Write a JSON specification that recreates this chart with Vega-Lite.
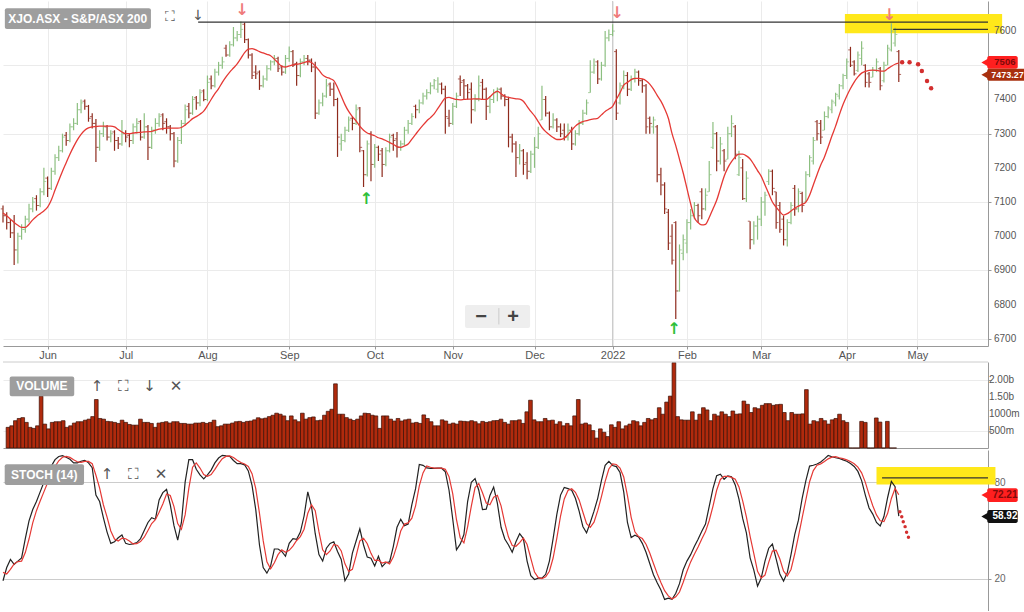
{
"$schema":"https://vega.github.io/schema/vega-lite/v6.json",
"padding":0,
"background":"#ffffff",
"spacing":1,
"config":{"view":{"stroke":null},"font":"Liberation Sans","text":{"font":"Liberation Sans"}},
"datasets":{
"ohlc":[
{"i":0,"o":7080,"h":7090,"l":7040,"c":7060,"v":605,"m":7068,"k":18.8,"d":24},
{"i":1,"o":7060,"h":7070,"l":7020,"c":7040,"v":650,"m":7060,"k":27,"d":23},
{"i":2,"o":7040,"h":7050,"l":6995,"c":7010,"v":800,"m":7050,"k":32,"d":25.9},
{"i":3,"o":7010,"h":7062,"l":6916,"c":6960,"v":865,"m":7040,"k":29,"d":29.3},
{"i":4,"o":6960,"h":7010,"l":6920,"c":7000,"v":890,"m":7032,"k":31,"d":30.7},
{"i":5,"o":7000,"h":7035,"l":6990,"c":7020,"v":750,"m":7026,"k":33,"d":31},
{"i":6,"o":7020,"h":7060,"l":7010,"c":7050,"v":605,"m":7026,"k":45,"d":36.3},
{"i":7,"o":7050,"h":7095,"l":7040,"c":7080,"v":575,"m":7035,"k":56,"d":44.7},
{"i":8,"o":7080,"h":7115,"l":7070,"c":7100,"v":650,"m":7048,"k":63,"d":54.7},
{"i":9,"o":7110,"h":7120,"l":7075,"c":7090,"v":1520,"m":7058,"k":68,"d":62.3},
{"i":10,"o":7090,"h":7140,"l":7085,"c":7130,"v":700,"m":7066,"k":74,"d":68.3},
{"i":11,"o":7130,"h":7200,"l":7120,"c":7160,"v":560,"m":7074,"k":80,"d":74},
{"i":12,"o":7170,"h":7175,"l":7115,"c":7140,"v":750,"m":7085,"k":85,"d":79.7},
{"i":13,"o":7140,"h":7200,"l":7135,"c":7190,"v":770,"m":7106,"k":90,"d":85},
{"i":14,"o":7190,"h":7240,"l":7180,"c":7230,"v":770,"m":7135,"k":94,"d":89.7},
{"i":15,"o":7230,"h":7265,"l":7220,"c":7250,"v":800,"m":7163,"k":96,"d":93.3},
{"i":16,"o":7250,"h":7300,"l":7245,"c":7290,"v":605,"m":7190,"k":96.5,"d":95.5},
{"i":17,"o":7295,"h":7305,"l":7265,"c":7280,"v":650,"m":7215,"k":95.5,"d":96},
{"i":18,"o":7280,"h":7330,"l":7275,"c":7320,"v":730,"m":7240,"k":94.2,"d":95.4},
{"i":19,"o":7320,"h":7345,"l":7310,"c":7330,"v":770,"m":7262,"k":92,"d":93.9},
{"i":20,"o":7330,"h":7390,"l":7325,"c":7370,"v":770,"m":7282,"k":92,"d":92.7},
{"i":21,"o":7370,"h":7400,"l":7360,"c":7390,"v":815,"m":7298,"k":93,"d":92.3},
{"i":22,"o":7395,"h":7400,"l":7370,"c":7380,"v":845,"m":7310,"k":93.6,"d":92.9},
{"i":23,"o":7380,"h":7384,"l":7335,"c":7345,"v":920,"m":7317,"k":92,"d":92.9},
{"i":24,"o":7350,"h":7360,"l":7315,"c":7330,"v":1420,"m":7320,"k":89,"d":91.5},
{"i":25,"o":7330,"h":7343,"l":7217,"c":7260,"v":865,"m":7321,"k":72,"d":84.3},
{"i":26,"o":7260,"h":7310,"l":7250,"c":7300,"v":845,"m":7322,"k":68,"d":76.3},
{"i":27,"o":7300,"h":7335,"l":7290,"c":7320,"v":780,"m":7322,"k":58,"d":66},
{"i":28,"o":7320,"h":7325,"l":7280,"c":7290,"v":770,"m":7322,"k":49,"d":58.3},
{"i":29,"o":7290,"h":7310,"l":7275,"c":7300,"v":750,"m":7322,"k":42,"d":49.7},
{"i":30,"o":7305,"h":7310,"l":7250,"c":7280,"v":720,"m":7320,"k":43,"d":44.7},
{"i":31,"o":7280,"h":7290,"l":7255,"c":7270,"v":815,"m":7312,"k":45.5,"d":43.5},
{"i":32,"o":7270,"h":7340,"l":7265,"c":7300,"v":750,"m":7305,"k":47.2,"d":45.2},
{"i":33,"o":7300,"h":7310,"l":7275,"c":7290,"v":690,"m":7300,"k":42,"d":44.9},
{"i":34,"o":7295,"h":7300,"l":7260,"c":7280,"v":670,"m":7300,"k":41.3,"d":43.5},
{"i":35,"o":7280,"h":7330,"l":7270,"c":7320,"v":670,"m":7302,"k":41.7,"d":41.7},
{"i":36,"o":7320,"h":7345,"l":7300,"c":7330,"v":845,"m":7303,"k":42.5,"d":41.8},
{"i":37,"o":7335,"h":7340,"l":7280,"c":7290,"v":750,"m":7304,"k":45,"d":43.1},
{"i":38,"o":7290,"h":7360,"l":7285,"c":7320,"v":750,"m":7305,"k":50,"d":45.8},
{"i":39,"o":7320,"h":7325,"l":7223,"c":7260,"v":720,"m":7306,"k":55,"d":50},
{"i":40,"o":7260,"h":7320,"l":7255,"c":7310,"v":605,"m":7307,"k":58,"d":54.3},
{"i":41,"o":7310,"h":7345,"l":7300,"c":7330,"v":730,"m":7310,"k":57,"d":56.7},
{"i":42,"o":7330,"h":7360,"l":7320,"c":7350,"v":750,"m":7313,"k":69,"d":61.3},
{"i":43,"o":7355,"h":7360,"l":7310,"c":7330,"v":770,"m":7315,"k":73.5,"d":66.5},
{"i":44,"o":7335,"h":7345,"l":7300,"c":7320,"v":730,"m":7316,"k":75.5,"d":72.7},
{"i":45,"o":7320,"h":7325,"l":7280,"c":7300,"v":770,"m":7316,"k":66,"d":71.7},
{"i":46,"o":7300,"h":7305,"l":7202,"c":7220,"v":770,"m":7316,"k":53,"d":64.8},
{"i":47,"o":7220,"h":7290,"l":7215,"c":7280,"v":720,"m":7316,"k":44,"d":54.3},
{"i":48,"o":7280,"h":7340,"l":7270,"c":7330,"v":720,"m":7318,"k":55,"d":50.7},
{"i":49,"o":7330,"h":7385,"l":7325,"c":7370,"v":700,"m":7325,"k":80,"d":59.7},
{"i":50,"o":7380,"h":7390,"l":7345,"c":7360,"v":700,"m":7334,"k":94,"d":76.3},
{"i":51,"o":7360,"h":7410,"l":7355,"c":7400,"v":730,"m":7344,"k":94,"d":89.3},
{"i":52,"o":7405,"h":7410,"l":7370,"c":7390,"v":730,"m":7350,"k":88,"d":92},
{"i":53,"o":7390,"h":7430,"l":7380,"c":7420,"v":750,"m":7357,"k":84.5,"d":88.8},
{"i":54,"o":7425,"h":7430,"l":7395,"c":7400,"v":720,"m":7366,"k":82,"d":84.8},
{"i":55,"o":7400,"h":7470,"l":7395,"c":7450,"v":750,"m":7382,"k":84.5,"d":83.7},
{"i":56,"o":7460,"h":7470,"l":7430,"c":7440,"v":815,"m":7400,"k":87.5,"d":84.7},
{"i":57,"o":7440,"h":7490,"l":7435,"c":7480,"v":625,"m":7417,"k":92,"d":88},
{"i":58,"o":7480,"h":7510,"l":7470,"c":7500,"v":650,"m":7432,"k":95,"d":91.5},
{"i":59,"o":7500,"h":7525,"l":7490,"c":7510,"v":700,"m":7450,"k":96.7,"d":94.6},
{"i":60,"o":7550,"h":7560,"l":7525,"c":7530,"v":700,"m":7466,"k":96.3,"d":96},
{"i":61,"o":7530,"h":7570,"l":7525,"c":7560,"v":730,"m":7480,"k":96,"d":96.3},
{"i":62,"o":7560,"h":7612,"l":7555,"c":7580,"v":770,"m":7492,"k":93.5,"d":95.3},
{"i":63,"o":7580,"h":7600,"l":7570,"c":7590,"v":780,"m":7504,"k":91.5,"d":93.7},
{"i":64,"o":7590,"h":7628,"l":7580,"c":7605,"v":750,"m":7520,"k":91.5,"d":92.2},
{"i":65,"o":7620,"h":7625,"l":7565,"c":7575,"v":780,"m":7537,"k":90.8,"d":91.3},
{"i":66,"o":7575,"h":7578,"l":7520,"c":7530,"v":790,"m":7547,"k":87,"d":89.8},
{"i":67,"o":7530,"h":7535,"l":7460,"c":7470,"v":825,"m":7549,"k":78,"d":85.3},
{"i":68,"o":7480,"h":7500,"l":7460,"c":7475,"v":885,"m":7545,"k":63,"d":76},
{"i":69,"o":7480,"h":7485,"l":7428,"c":7440,"v":855,"m":7540,"k":41,"d":60.7},
{"i":70,"o":7440,"h":7470,"l":7435,"c":7460,"v":875,"m":7536,"k":27,"d":43.7},
{"i":71,"o":7460,"h":7500,"l":7455,"c":7490,"v":920,"m":7532,"k":23.5,"d":30.5},
{"i":72,"o":7490,"h":7515,"l":7485,"c":7510,"v":960,"m":7528,"k":28,"d":26.2},
{"i":73,"o":7510,"h":7530,"l":7500,"c":7520,"v":1020,"m":7518,"k":38.5,"d":30},
{"i":74,"o":7520,"h":7525,"l":7480,"c":7490,"v":990,"m":7507,"k":38.5,"d":35},
{"i":75,"o":7495,"h":7500,"l":7470,"c":7480,"v":940,"m":7497,"k":37,"d":38},
{"i":76,"o":7480,"h":7530,"l":7475,"c":7520,"v":800,"m":7495,"k":34,"d":36.5},
{"i":77,"o":7520,"h":7555,"l":7510,"c":7540,"v":940,"m":7498,"k":42,"d":37.7},
{"i":78,"o":7540,"h":7545,"l":7495,"c":7500,"v":825,"m":7501,"k":45,"d":40.3},
{"i":79,"o":7505,"h":7510,"l":7440,"c":7470,"v":770,"m":7503,"k":44.5,"d":43.8},
{"i":80,"o":7470,"h":7520,"l":7465,"c":7510,"v":1020,"m":7505,"k":49,"d":46.2},
{"i":81,"o":7510,"h":7530,"l":7500,"c":7520,"v":845,"m":7508,"k":59,"d":50.8},
{"i":82,"o":7520,"h":7530,"l":7500,"c":7515,"v":890,"m":7511,"k":74,"d":60.7},
{"i":83,"o":7515,"h":7520,"l":7480,"c":7495,"v":910,"m":7508,"k":65,"d":66},
{"i":84,"o":7495,"h":7510,"l":7343,"c":7360,"v":800,"m":7498,"k":48,"d":62.3},
{"i":85,"o":7360,"h":7400,"l":7355,"c":7390,"v":815,"m":7486,"k":35,"d":49.3},
{"i":86,"o":7390,"h":7420,"l":7380,"c":7410,"v":960,"m":7472,"k":31,"d":38},
{"i":87,"o":7410,"h":7460,"l":7405,"c":7440,"v":1075,"m":7465,"k":39,"d":35},
{"i":88,"o":7445,"h":7450,"l":7410,"c":7430,"v":1135,"m":7461,"k":42,"d":37.3},
{"i":89,"o":7430,"h":7450,"l":7380,"c":7400,"v":1880,"m":7455,"k":43,"d":41.3},
{"i":90,"o":7400,"h":7405,"l":7232,"c":7290,"v":990,"m":7435,"k":37,"d":40.7},
{"i":91,"o":7270,"h":7300,"l":7250,"c":7280,"v":990,"m":7410,"k":32,"d":37.3},
{"i":92,"o":7280,"h":7320,"l":7275,"c":7310,"v":890,"m":7385,"k":18.8,"d":29.3},
{"i":93,"o":7310,"h":7350,"l":7305,"c":7340,"v":845,"m":7365,"k":23,"d":24.6},
{"i":94,"o":7345,"h":7350,"l":7310,"c":7330,"v":805,"m":7350,"k":36,"d":25.9},
{"i":95,"o":7330,"h":7385,"l":7325,"c":7370,"v":845,"m":7337,"k":43.5,"d":34.2},
{"i":96,"o":7375,"h":7378,"l":7246,"c":7260,"v":940,"m":7322,"k":51,"d":43.5},
{"i":97,"o":7250,"h":7252,"l":7144,"c":7180,"v":1020,"m":7310,"k":41,"d":45.2},
{"i":98,"o":7180,"h":7280,"l":7175,"c":7270,"v":1010,"m":7302,"k":33.5,"d":41.8},
{"i":99,"o":7300,"h":7307,"l":7161,"c":7210,"v":960,"m":7298,"k":32.8,"d":35.8},
{"i":100,"o":7210,"h":7270,"l":7200,"c":7260,"v":940,"m":7294,"k":28,"d":31.4},
{"i":101,"o":7260,"h":7265,"l":7220,"c":7240,"v":575,"m":7288,"k":34,"d":31.6},
{"i":102,"o":7250,"h":7258,"l":7173,"c":7210,"v":940,"m":7285,"k":27.5,"d":29.8},
{"i":103,"o":7210,"h":7260,"l":7205,"c":7250,"v":940,"m":7280,"k":30,"d":30.5},
{"i":104,"o":7250,"h":7300,"l":7245,"c":7290,"v":845,"m":7274,"k":30.5,"d":29.3},
{"i":105,"o":7295,"h":7300,"l":7250,"c":7280,"v":790,"m":7269,"k":40,"d":33.5},
{"i":106,"o":7285,"h":7305,"l":7230,"c":7260,"v":865,"m":7262,"k":52,"d":40.8},
{"i":107,"o":7260,"h":7280,"l":7250,"c":7270,"v":790,"m":7260,"k":57,"d":49.7},
{"i":108,"o":7270,"h":7320,"l":7265,"c":7310,"v":825,"m":7264,"k":53,"d":54},
{"i":109,"o":7310,"h":7340,"l":7300,"c":7330,"v":845,"m":7270,"k":54,"d":54.7},
{"i":110,"o":7330,"h":7360,"l":7325,"c":7350,"v":730,"m":7284,"k":66,"d":57.7},
{"i":111,"o":7380,"h":7385,"l":7345,"c":7370,"v":750,"m":7298,"k":76,"d":65.3},
{"i":112,"o":7370,"h":7400,"l":7360,"c":7390,"v":720,"m":7312,"k":91,"d":77.7},
{"i":113,"o":7390,"h":7420,"l":7385,"c":7410,"v":970,"m":7325,"k":90.5,"d":85.8},
{"i":114,"o":7410,"h":7430,"l":7400,"c":7420,"v":865,"m":7337,"k":88.9,"d":90.1},
{"i":115,"o":7420,"h":7450,"l":7415,"c":7440,"v":770,"m":7347,"k":88.6,"d":89.3},
{"i":116,"o":7440,"h":7460,"l":7430,"c":7455,"v":650,"m":7358,"k":88.6,"d":88.7},
{"i":117,"o":7430,"h":7465,"l":7420,"c":7445,"v":650,"m":7374,"k":88.8,"d":88.7},
{"i":118,"o":7445,"h":7450,"l":7415,"c":7430,"v":825,"m":7390,"k":88.7,"d":88.7},
{"i":119,"o":7430,"h":7440,"l":7300,"c":7350,"v":790,"m":7404,"k":86.5,"d":88},
{"i":120,"o":7345,"h":7370,"l":7320,"c":7330,"v":700,"m":7406,"k":75,"d":83.4},
{"i":121,"o":7330,"h":7390,"l":7325,"c":7380,"v":730,"m":7403,"k":57,"d":72.8},
{"i":122,"o":7380,"h":7420,"l":7375,"c":7410,"v":700,"m":7400,"k":38,"d":56.7},
{"i":123,"o":7460,"h":7470,"l":7410,"c":7450,"v":790,"m":7399,"k":41.5,"d":45.5},
{"i":124,"o":7455,"h":7460,"l":7400,"c":7440,"v":780,"m":7400,"k":47.5,"d":42.3},
{"i":125,"o":7440,"h":7445,"l":7400,"c":7420,"v":770,"m":7401,"k":68,"d":52.3},
{"i":126,"o":7430,"h":7450,"l":7330,"c":7370,"v":800,"m":7401,"k":80,"d":65.2},
{"i":127,"o":7370,"h":7415,"l":7365,"c":7400,"v":770,"m":7402,"k":82.2,"d":76.7},
{"i":128,"o":7400,"h":7470,"l":7395,"c":7440,"v":710,"m":7402,"k":75,"d":79.1},
{"i":129,"o":7450,"h":7460,"l":7400,"c":7430,"v":780,"m":7400,"k":63,"d":73.4},
{"i":130,"o":7430,"h":7435,"l":7340,"c":7380,"v":750,"m":7400,"k":63.3,"d":67.1},
{"i":131,"o":7380,"h":7410,"l":7360,"c":7400,"v":770,"m":7408,"k":71.8,"d":66},
{"i":132,"o":7400,"h":7430,"l":7390,"c":7420,"v":800,"m":7418,"k":77,"d":70.7},
{"i":133,"o":7420,"h":7435,"l":7395,"c":7430,"v":805,"m":7424,"k":67,"d":71.9},
{"i":134,"o":7430,"h":7435,"l":7400,"c":7410,"v":845,"m":7417,"k":52,"d":65.3},
{"i":135,"o":7410,"h":7415,"l":7380,"c":7400,"v":750,"m":7409,"k":44.7,"d":54.6},
{"i":136,"o":7400,"h":7408,"l":7260,"c":7290,"v":700,"m":7406,"k":41,"d":45.9},
{"i":137,"o":7290,"h":7300,"l":7245,"c":7270,"v":800,"m":7404,"k":36.5,"d":40.7},
{"i":138,"o":7270,"h":7278,"l":7173,"c":7230,"v":800,"m":7402,"k":43,"d":40.2},
{"i":139,"o":7230,"h":7270,"l":7210,"c":7250,"v":825,"m":7401,"k":48,"d":42.5},
{"i":140,"o":7250,"h":7255,"l":7180,"c":7210,"v":720,"m":7395,"k":45,"d":45.3},
{"i":141,"o":7215,"h":7246,"l":7167,"c":7190,"v":1060,"m":7380,"k":31,"d":41.3},
{"i":142,"o":7190,"h":7250,"l":7185,"c":7240,"v":1400,"m":7365,"k":22,"d":32.7},
{"i":143,"o":7240,"h":7290,"l":7200,"c":7260,"v":825,"m":7352,"k":19.6,"d":24.2},
{"i":144,"o":7260,"h":7320,"l":7255,"c":7300,"v":770,"m":7335,"k":20.4,"d":20.7},
{"i":145,"o":7340,"h":7440,"l":7340,"c":7400,"v":770,"m":7318,"k":20.4,"d":20.1},
{"i":146,"o":7400,"h":7410,"l":7350,"c":7360,"v":865,"m":7306,"k":22.8,"d":21.2},
{"i":147,"o":7360,"h":7365,"l":7310,"c":7320,"v":800,"m":7297,"k":31,"d":24.7},
{"i":148,"o":7320,"h":7360,"l":7315,"c":7340,"v":815,"m":7289,"k":45,"d":32.9},
{"i":149,"o":7340,"h":7345,"l":7305,"c":7320,"v":700,"m":7283,"k":60,"d":45.3},
{"i":150,"o":7320,"h":7330,"l":7290,"c":7300,"v":770,"m":7283,"k":72,"d":59},
{"i":151,"o":7310,"h":7330,"l":7280,"c":7290,"v":650,"m":7287,"k":76.7,"d":69.6},
{"i":152,"o":7290,"h":7330,"l":7280,"c":7310,"v":720,"m":7297,"k":76,"d":74.9},
{"i":153,"o":7310,"h":7320,"l":7252,"c":7270,"v":650,"m":7310,"k":75,"d":75.9},
{"i":154,"o":7270,"h":7310,"l":7265,"c":7300,"v":940,"m":7322,"k":70,"d":73.7},
{"i":155,"o":7300,"h":7340,"l":7295,"c":7330,"v":1420,"m":7330,"k":62,"d":69},
{"i":156,"o":7330,"h":7370,"l":7325,"c":7360,"v":700,"m":7335,"k":52.5,"d":61.5},
{"i":157,"o":7360,"h":7400,"l":7355,"c":7390,"v":730,"m":7338,"k":48.5,"d":54.3},
{"i":158,"o":7420,"h":7515,"l":7420,"c":7480,"v":680,"m":7341,"k":55,"d":52},
{"i":159,"o":7480,"h":7520,"l":7475,"c":7500,"v":510,"m":7343,"k":62,"d":55.2},
{"i":160,"o":7510,"h":7515,"l":7445,"c":7460,"v":290,"m":7345,"k":70,"d":62.3},
{"i":161,"o":7460,"h":7510,"l":7455,"c":7500,"v":560,"m":7355,"k":81,"d":71},
{"i":162,"o":7500,"h":7600,"l":7496,"c":7580,"v":460,"m":7365,"k":90.5,"d":80.5},
{"i":163,"o":7580,"h":7605,"l":7570,"c":7590,"v":335,"m":7372,"k":93,"d":88.2},
{"i":164,"o":7590,"h":7620,"l":7585,"c":7600,"v":680,"m":7380,"k":90.4,"d":91.3},
{"i":165,"o":7540,"h":7547,"l":7340,"c":7360,"v":605,"m":7400,"k":89.7,"d":91},
{"i":166,"o":7390,"h":7450,"l":7385,"c":7440,"v":770,"m":7420,"k":86,"d":88.7},
{"i":167,"o":7440,"h":7485,"l":7430,"c":7470,"v":560,"m":7442,"k":74,"d":83.2},
{"i":168,"o":7470,"h":7480,"l":7410,"c":7430,"v":650,"m":7450,"k":55,"d":71.7},
{"i":169,"o":7430,"h":7470,"l":7425,"c":7460,"v":700,"m":7458,"k":45.6,"d":58.2},
{"i":170,"o":7460,"h":7490,"l":7450,"c":7480,"v":800,"m":7462,"k":47.1,"d":49.2},
{"i":171,"o":7480,"h":7485,"l":7440,"c":7455,"v":770,"m":7462,"k":46,"d":46.2},
{"i":172,"o":7455,"h":7460,"l":7420,"c":7440,"v":650,"m":7460,"k":42,"d":45},
{"i":173,"o":7440,"h":7445,"l":7300,"c":7320,"v":750,"m":7455,"k":36.5,"d":41.5},
{"i":174,"o":7345,"h":7350,"l":7300,"c":7330,"v":865,"m":7445,"k":29.5,"d":36},
{"i":175,"o":7320,"h":7350,"l":7300,"c":7340,"v":825,"m":7430,"k":22.5,"d":29.5},
{"i":176,"o":7320,"h":7325,"l":7158,"c":7180,"v":865,"m":7412,"k":17.5,"d":23.2},
{"i":177,"o":7180,"h":7200,"l":7120,"c":7150,"v":1180,"m":7395,"k":13,"d":17.7},
{"i":178,"o":7150,"h":7158,"l":7065,"c":7080,"v":990,"m":7373,"k":7.2,"d":12.6},
{"i":179,"o":7070,"h":7080,"l":6960,"c":6980,"v":1345,"m":7345,"k":8,"d":9.4},
{"i":180,"o":7000,"h":7035,"l":6917,"c":6930,"v":1520,"m":7300,"k":7.3,"d":7.5},
{"i":181,"o":7040,"h":7044,"l":6758,"c":6840,"v":2500,"m":7265,"k":11,"d":8.8},
{"i":182,"o":6840,"h":6976,"l":6838,"c":6960,"v":920,"m":7225,"k":17,"d":11.8},
{"i":183,"o":6950,"h":7005,"l":6930,"c":6990,"v":825,"m":7185,"k":25.6,"d":17.9},
{"i":184,"o":6980,"h":7050,"l":6950,"c":7040,"v":815,"m":7140,"k":31,"d":24.5},
{"i":185,"o":7040,"h":7080,"l":7020,"c":7060,"v":815,"m":7095,"k":35,"d":30.5},
{"i":186,"o":7060,"h":7100,"l":7050,"c":7090,"v":1060,"m":7055,"k":40,"d":35.3},
{"i":187,"o":7090,"h":7095,"l":7040,"c":7060,"v":815,"m":7040,"k":44.5,"d":39.8},
{"i":188,"o":7130,"h":7140,"l":7050,"c":7080,"v":990,"m":7033,"k":49.5,"d":44.7},
{"i":189,"o":7080,"h":7140,"l":7075,"c":7120,"v":1180,"m":7035,"k":54,"d":49.3},
{"i":190,"o":7130,"h":7220,"l":7130,"c":7180,"v":1115,"m":7055,"k":65,"d":56.2},
{"i":191,"o":7260,"h":7334,"l":7255,"c":7300,"v":800,"m":7080,"k":76,"d":65},
{"i":192,"o":7300,"h":7305,"l":7190,"c":7220,"v":990,"m":7105,"k":84,"d":75},
{"i":193,"o":7220,"h":7290,"l":7210,"c":7270,"v":940,"m":7140,"k":85,"d":81.7},
{"i":194,"o":7250,"h":7255,"l":7190,"c":7220,"v":1060,"m":7175,"k":81.8,"d":83.6},
{"i":195,"o":7225,"h":7320,"l":7225,"c":7300,"v":990,"m":7200,"k":83.9,"d":83.6},
{"i":196,"o":7300,"h":7354,"l":7290,"c":7330,"v":920,"m":7218,"k":83.4,"d":83},
{"i":197,"o":7320,"h":7325,"l":7225,"c":7240,"v":1085,"m":7232,"k":78.3,"d":81.9},
{"i":198,"o":7180,"h":7250,"l":7176,"c":7230,"v":990,"m":7240,"k":69.5,"d":77.1},
{"i":199,"o":7200,"h":7226,"l":7106,"c":7110,"v":1000,"m":7240,"k":57.5,"d":68.4},
{"i":200,"o":7110,"h":7190,"l":7100,"c":7170,"v":1375,"m":7235,"k":48.5,"d":58.5},
{"i":201,"o":7044,"h":7044,"l":6962,"c":6990,"v":1280,"m":7226,"k":33,"d":46.3},
{"i":202,"o":6990,"h":7044,"l":6976,"c":7030,"v":1040,"m":7210,"k":25.4,"d":35.6},
{"i":203,"o":7030,"h":7060,"l":6990,"c":7050,"v":1180,"m":7192,"k":15.5,"d":24.6},
{"i":204,"o":7050,"h":7115,"l":7030,"c":7100,"v":1150,"m":7175,"k":20.5,"d":20.5},
{"i":205,"o":7100,"h":7130,"l":7060,"c":7120,"v":1250,"m":7150,"k":31,"d":22.3},
{"i":206,"o":7160,"h":7196,"l":7150,"c":7190,"v":1300,"m":7125,"k":39,"d":30.2},
{"i":207,"o":7190,"h":7195,"l":7120,"c":7140,"v":1300,"m":7100,"k":41.6,"d":37.2},
{"i":208,"o":7130,"h":7130,"l":7022,"c":7040,"v":1250,"m":7085,"k":32.4,"d":37.7},
{"i":209,"o":7090,"h":7100,"l":7010,"c":7020,"v":1270,"m":7072,"k":23,"d":32.3},
{"i":210,"o":7050,"h":7060,"l":6973,"c":6990,"v":1280,"m":7062,"k":18.6,"d":24.7},
{"i":211,"o":6990,"h":7050,"l":6970,"c":7040,"v":1040,"m":7066,"k":23.8,"d":21.8},
{"i":212,"o":7040,"h":7100,"l":7035,"c":7090,"v":800,"m":7074,"k":35,"d":25.8},
{"i":213,"o":7140,"h":7150,"l":7060,"c":7080,"v":1040,"m":7082,"k":47.4,"d":35.4},
{"i":214,"o":7080,"h":7140,"l":7070,"c":7130,"v":990,"m":7088,"k":56.4,"d":46.3},
{"i":215,"o":7125,"h":7130,"l":7070,"c":7090,"v":990,"m":7093,"k":70,"d":57.9},
{"i":216,"o":7100,"h":7190,"l":7100,"c":7180,"v":1000,"m":7100,"k":81,"d":69.1},
{"i":217,"o":7180,"h":7237,"l":7173,"c":7230,"v":1710,"m":7120,"k":90,"d":80.3},
{"i":218,"o":7220,"h":7290,"l":7210,"c":7280,"v":700,"m":7150,"k":90.5,"d":87.2},
{"i":219,"o":7335,"h":7340,"l":7280,"c":7300,"v":800,"m":7180,"k":91.3,"d":90.6},
{"i":220,"o":7330,"h":7340,"l":7270,"c":7290,"v":770,"m":7208,"k":92.5,"d":91.4},
{"i":221,"o":7310,"h":7365,"l":7310,"c":7350,"v":865,"m":7232,"k":94.5,"d":92.8},
{"i":222,"o":7350,"h":7380,"l":7345,"c":7375,"v":800,"m":7262,"k":96.6,"d":94.5},
{"i":223,"o":7370,"h":7400,"l":7360,"c":7395,"v":700,"m":7293,"k":95.8,"d":95.6},
{"i":224,"o":7390,"h":7420,"l":7380,"c":7415,"v":825,"m":7322,"k":95.2,"d":95.9},
{"i":225,"o":7410,"h":7445,"l":7400,"c":7440,"v":865,"m":7355,"k":94.7,"d":95.2},
{"i":226,"o":7440,"h":7475,"l":7430,"c":7470,"v":990,"m":7385,"k":93.9,"d":94.6},
{"i":227,"o":7470,"h":7520,"l":7460,"c":7510,"v":800,"m":7410,"k":93,"d":93.9},
{"i":228,"o":7545,"h":7554,"l":7495,"c":7500,"v":750,"m":7432,"k":91.6,"d":92.8},
{"i":229,"o":7510,"h":7515,"l":7470,"c":7475,"v":0,"m":7451,"k":89.8,"d":91.5},
{"i":230,"o":7485,"h":7540,"l":7480,"c":7530,"v":0,"m":7466,"k":86.7,"d":89.4},
{"i":231,"o":7520,"h":7570,"l":7500,"c":7550,"v":0,"m":7477,"k":81,"d":85.8},
{"i":232,"o":7500,"h":7503,"l":7436,"c":7450,"v":780,"m":7482,"k":72,"d":79.9},
{"i":233,"o":7475,"h":7480,"l":7435,"c":7450,"v":750,"m":7485,"k":64,"d":72.3},
{"i":234,"o":7465,"h":7495,"l":7465,"c":7485,"v":0,"m":7486,"k":60.2,"d":65.4},
{"i":235,"o":7485,"h":7520,"l":7480,"c":7510,"v":0,"m":7485,"k":55,"d":59.7},
{"i":236,"o":7490,"h":7495,"l":7427,"c":7440,"v":880,"m":7483,"k":52.8,"d":56},
{"i":237,"o":7455,"h":7510,"l":7450,"c":7500,"v":760,"m":7483,"k":58.7,"d":55.5},
{"i":238,"o":7500,"h":7560,"l":7500,"c":7550,"v":0,"m":7490,"k":70.5,"d":60.7},
{"i":239,"o":7545,"h":7623,"l":7540,"c":7600,"v":780,"m":7497,"k":80.5,"d":69.9},
{"i":240,"o":7565,"h":7610,"l":7555,"c":7590,"v":0,"m":7503,"k":77.2,"d":76.1},
{"i":241,"o":7540,"h":7545,"l":7451,"c":7473.27,"v":0,"m":7506,"k":58.92,"d":72.21}
],
"pticks":[{"p":6700},{"p":6800},{"p":6900},{"p":7000},{"p":7100},{"p":7200},{"p":7300},{"p":7400},{"p":7500},{"p":7600}],
"vticks":[{"v":500,"t":"500m"},{"v":1000,"t":"1000m"},{"v":1500,"t":"1.50b"},{"v":2000,"t":"2.00b"}],
"highs":[{"i":64.3,"p":7662},{"i":165.2,"p":7653},{"i":238.4,"p":7648}],
"lows":[{"i":97.7,"p":7110},{"i":180.5,"p":6730}],
"proj":[{"i":241.9,"p":7509},{"i":243.9,"p":7509},{"i":246.2,"p":7503},{"i":247.2,"p":7483},{"i":248.6,"p":7454},{"i":249.7,"p":7433}],
"sproj":[{"i":241.3,"k":61.7},{"i":241.8,"k":58.6},{"i":242.2,"k":55.5},{"i":242.7,"k":52.4},{"i":243.1,"k":48.9},{"i":243.6,"k":45.8}]
},
"vconcat":[
{
"width":985,"height":345,
"layer":[
{"data":{"values":[{}]},"mark":{"type":"rect","fill":"#ffe81a"},
 "encoding":{
  "x":{"datum":226.5,"type":"quantitative","scale":{"domain":[0,265],"nice":false,"zero":false},
       "axis":{"title":null,"values":[12,33,55,77,100,121,143,164,184,204,227,246],"labelExpr":"['Jun','Jul','Aug','Sep','Oct','Nov','Dec','2022','Feb','Mar','Apr','May'][indexof([12,33,55,77,100,121,143,164,184,204,227,246], datum.value)]","grid":true,"gridColor":"#ebebeb","tickSize":3,"tickColor":"#999","domainColor":"#999","labelColor":"#555","labelFontSize":11,"labelPadding":0,"labelFlush":false,"labelOverlap":false}},
  "x2":{"datum":268.8},
  "y":{"datum":7650,"type":"quantitative","scale":{"domain":[6679,7688],"nice":false,"zero":false},
       "axis":{"title":null,"orient":"right","values":[6700,6800,6900,7000,7100,7200,7300,7400,7500,7600],"labels":false,"grid":true,"gridColor":"#ebebeb","tickSize":3,"tickColor":"#999","domainColor":"#999"}},
  "y2":{"datum":7594}}},
{"data":{"values":[{}]},"mark":{"type":"rule","color":"#c8c8c8"},"encoding":{"x":{"datum":164,"type":"quantitative"}}},
{"data":{"name":"ohlc"},"mark":{"type":"rule","strokeWidth":1.2},
 "encoding":{"x":{"field":"i","type":"quantitative"},"y":{"field":"l","type":"quantitative"},"y2":{"field":"h"},
  "color":{"condition":{"test":"datum.c >= datum.o","value":"#8cbf80"},"value":"#8e2a1c"}}},
{"data":{"name":"ohlc"},"mark":{"type":"tick","orient":"horizontal","size":2,"thickness":1,"xOffset":-1.3},
 "encoding":{"x":{"field":"i","type":"quantitative"},"y":{"field":"o","type":"quantitative"},
  "color":{"condition":{"test":"datum.c >= datum.o","value":"#8cbf80"},"value":"#8e2a1c"}}},
{"data":{"name":"ohlc"},"mark":{"type":"tick","orient":"horizontal","size":2,"thickness":1,"xOffset":1.3},
 "encoding":{"x":{"field":"i","type":"quantitative"},"y":{"field":"c","type":"quantitative"},
  "color":{"condition":{"test":"datum.c >= datum.o","value":"#8cbf80"},"value":"#8e2a1c"}}},
{"data":{"name":"ohlc"},"mark":{"type":"line","color":"#e53935","strokeWidth":1.3,"interpolate":"monotone"},
 "encoding":{"x":{"field":"i","type":"quantitative"},"y":{"field":"m","type":"quantitative"}}},
{"data":{"name":"pticks"},"mark":{"type":"text","align":"left","baseline":"middle","dx":6,"fontSize":10,"color":"#555555"},
 "encoding":{"x":{"datum":265,"type":"quantitative"},"y":{"field":"p","type":"quantitative"},"text":{"field":"p","type":"quantitative","format":"d"}}},
{"data":{"values":[{}]},"mark":{"type":"rule","color":"#333333","strokeWidth":1.2},
 "encoding":{"x":{"datum":52.5,"type":"quantitative"},"x2":{"datum":265},"y":{"datum":7626,"type":"quantitative"}}},
{"data":{"values":[{}]},"mark":{"type":"rule","color":"#333333","strokeWidth":1.2},
 "encoding":{"x":{"datum":239.5,"type":"quantitative"},"x2":{"datum":265},"y":{"datum":7605,"type":"quantitative"}}},
{"data":{"values":[{}]},"mark":{"type":"text","text":"↓","font":"DejaVu Sans","fontSize":14,"color":"#555555"},
 "encoding":{"x":{"datum":52.5,"type":"quantitative"},"y":{"datum":7645,"type":"quantitative"}}},
{"data":{"name":"highs"},"mark":{"type":"text","text":"↓","font":"DejaVu Sans","fontSize":16,"fontWeight":"bold","color":"#ef7b7b"},
 "encoding":{"x":{"field":"i","type":"quantitative"},"y":{"field":"p","type":"quantitative"}}},
{"data":{"name":"lows"},"mark":{"type":"text","text":"↑","font":"DejaVu Sans","fontSize":16,"fontWeight":"bold","color":"#2fbf3a"},
 "encoding":{"x":{"field":"i","type":"quantitative"},"y":{"field":"p","type":"quantitative"}}},
{"data":{"name":"proj"},"mark":{"type":"circle","size":20,"color":"#d32f2f","opacity":1},
 "encoding":{"x":{"field":"i","type":"quantitative"},"y":{"field":"p","type":"quantitative"}}},
{"data":{"values":[{}]},"mark":{"type":"rect","fill":"#9e9e9e","cornerRadius":2},
 "encoding":{"x":{"datum":0.5,"type":"quantitative"},"x2":{"datum":39.8},"y":{"datum":7667,"type":"quantitative"},"y2":{"datum":7606}}},
{"data":{"values":[{"t":"XJO.ASX - S&P/ASX 200"}]},"mark":{"type":"text","fontSize":12,"fontWeight":"bold","color":"#ffffff"},
 "encoding":{"x":{"datum":20.1,"type":"quantitative"},"y":{"datum":7636,"type":"quantitative"},"text":{"field":"t"}}},
{"data":{"values":[{}]},"mark":{"type":"text","text":"⛶","font":"DejaVu Sans","fontSize":14,"color":"#555555"},
 "encoding":{"x":{"datum":45,"type":"quantitative"},"y":{"datum":7642,"type":"quantitative"}}},
{"data":{"values":[{}]},"mark":{"type":"rect","fill":"#eeeeee","cornerRadius":2},
 "encoding":{"x":{"datum":124.3,"type":"quantitative"},"x2":{"datum":141.8},"y":{"datum":6799,"type":"quantitative"},"y2":{"datum":6732}}},
{"data":{"values":[{}]},"mark":{"type":"rule","color":"#cccccc"},
 "encoding":{"x":{"datum":133.4,"type":"quantitative"},"y":{"datum":6790,"type":"quantitative"},"y2":{"datum":6742}}},
{"data":{"values":[{"t":"−"}]},"mark":{"type":"text","fontSize":20,"fontWeight":"bold","color":"#444444"},
 "encoding":{"x":{"datum":128.6,"type":"quantitative"},"y":{"datum":6765,"type":"quantitative"},"text":{"field":"t"}}},
{"data":{"values":[{"t":"+"}]},"mark":{"type":"text","fontSize":20,"fontWeight":"bold","color":"#444444"},
 "encoding":{"x":{"datum":137.2,"type":"quantitative"},"y":{"datum":6765,"type":"quantitative"},"text":{"field":"t"}}},
{"data":{"values":[{}]},"mark":{"type":"rect","fill":"#ff1f1f","cornerRadius":2},
 "encoding":{"x":{"datum":264.8,"type":"quantitative"},"x2":{"datum":273},"y":{"datum":7527,"type":"quantitative"},"y2":{"datum":7490}}},
{"data":{"values":[{}]},"mark":{"type":"point","shape":"triangle-left","filled":true,"fill":"#ff1f1f","size":70,"opacity":1,"strokeWidth":0},
 "encoding":{"x":{"datum":264.2,"type":"quantitative"},"y":{"datum":7508,"type":"quantitative"}}},
{"data":{"values":[{"t":"7506"}]},"mark":{"type":"text","align":"left","fontSize":9.5,"fontWeight":"bold","color":"#7d0a0a"},
 "encoding":{"x":{"datum":266.7,"type":"quantitative"},"y":{"datum":7511,"type":"quantitative"},"text":{"field":"t"}}},
{"data":{"values":[{}]},"mark":{"type":"rect","fill":"#a8300f","cornerRadius":2},
 "encoding":{"x":{"datum":264.8,"type":"quantitative"},"x2":{"datum":276},"y":{"datum":7490,"type":"quantitative"},"y2":{"datum":7455}}},
{"data":{"values":[{}]},"mark":{"type":"point","shape":"triangle-left","filled":true,"fill":"#a8300f","size":70,"opacity":1,"strokeWidth":0},
 "encoding":{"x":{"datum":264.2,"type":"quantitative"},"y":{"datum":7472,"type":"quantitative"}}},
{"data":{"values":[{"t":"7473.27"}]},"mark":{"type":"text","align":"left","fontSize":9,"fontWeight":"bold","color":"#ffffff"},
 "encoding":{"x":{"datum":265.9,"type":"quantitative"},"y":{"datum":7471,"type":"quantitative"},"text":{"field":"t"}}}
]
},
{
"width":985,"height":86,
"layer":[
{"data":{"name":"ohlc"},"mark":{"type":"bar","width":3.7,"fill":"#b02a0d","stroke":"#3a0e05","strokeWidth":0.7},
 "encoding":{
  "x":{"field":"i","type":"quantitative","scale":{"domain":[0,265],"nice":false,"zero":false},"axis":{"title":null,"labels":false,"ticks":false,"grid":false,"domainColor":"#999"}},
  "y":{"field":"v","type":"quantitative","scale":{"domain":[0,2520],"nice":false},"axis":{"title":null,"orient":"right","values":[500,1000,1500,2000],"labels":false,"grid":true,"gridColor":"#ebebeb","tickSize":3,"tickColor":"#999","domainColor":"#999"}}}},
{"data":{"values":[{}]},"mark":{"type":"rule","color":"#cccccc"},"encoding":{"y":{"datum":2520,"type":"quantitative"}}},
{"data":{"name":"vticks"},"mark":{"type":"text","align":"left","baseline":"middle","dx":6,"fontSize":10,"color":"#555555"},
 "encoding":{"x":{"datum":265,"type":"quantitative"},"y":{"field":"v","type":"quantitative"},"text":{"field":"t"}}},
{"data":{"values":[{}]},"mark":{"type":"rect","fill":"#9e9e9e","cornerRadius":2},
 "encoding":{"x":{"datum":0.46,"type":"quantitative"},"x2":{"datum":18},"y":{"datum":2098,"type":"quantitative"},"y2":{"datum":1520}}},
{"data":{"values":[{"t":"VOLUME"}]},"mark":{"type":"text","fontSize":12,"fontWeight":"bold","color":"#ffffff"},
 "encoding":{"x":{"datum":9.2,"type":"quantitative"},"y":{"datum":1810,"type":"quantitative"},"text":{"field":"t"}}},
{"data":{"values":[{"t":"↑","i":24.2},{"t":"⛶","i":31.5},{"t":"↓","i":38.5},{"t":"✕","i":45.7}]},"mark":{"type":"text","font":"DejaVu Sans","fontSize":15,"color":"#555555"},
 "encoding":{"x":{"field":"i","type":"quantitative"},"y":{"datum":1830,"type":"quantitative"},"text":{"field":"t"}}}
]
},
{
"width":985,"height":161,
"layer":[
{"data":{"values":[{}]},"mark":{"type":"rect","fill":"#ffe81a"},
 "encoding":{
  "x":{"datum":235,"type":"quantitative","scale":{"domain":[0,265],"nice":false,"zero":false},"axis":null},
  "x2":{"datum":267},
  "y":{"datum":89.5,"type":"quantitative","scale":{"domain":[0,100],"nice":false},"axis":{"title":null,"orient":"right","values":[20,80],"grid":true,"gridColor":"#cccccc","tickSize":3,"tickColor":"#999","domainColor":"#999","labelColor":"#666","labelFontSize":10,"labelPadding":3,"labelOverlap":false}},
  "y2":{"datum":78.6}}},
{"data":{"name":"ohlc"},"mark":{"type":"line","color":"#222222","strokeWidth":1.2},
 "encoding":{"x":{"field":"i","type":"quantitative"},"y":{"field":"k","type":"quantitative"}}},
{"data":{"name":"ohlc"},"mark":{"type":"line","color":"#e53935","strokeWidth":1.2},
 "encoding":{"x":{"field":"i","type":"quantitative"},"y":{"field":"d","type":"quantitative"}}},
{"data":{"values":[{}]},"mark":{"type":"rule","color":"#333333","strokeWidth":1.2},
 "encoding":{"x":{"datum":236.5,"type":"quantitative"},"x2":{"datum":265},"y":{"datum":82.7,"type":"quantitative"}}},
{"data":{"name":"sproj"},"mark":{"type":"circle","size":12,"color":"#d32f2f","opacity":1},
 "encoding":{"x":{"field":"i","type":"quantitative"},"y":{"field":"k","type":"quantitative"}}},
{"data":{"values":[{}]},"mark":{"type":"rect","fill":"#9e9e9e","cornerRadius":2},
 "encoding":{"x":{"datum":0.46,"type":"quantitative"},"x2":{"datum":21.8},"y":{"datum":91.2,"type":"quantitative"},"y2":{"datum":78.2}}},
{"data":{"values":[{"t":"STOCH (14)"}]},"mark":{"type":"text","fontSize":12,"fontWeight":"bold","color":"#ffffff"},
 "encoding":{"x":{"datum":11.1,"type":"quantitative"},"y":{"datum":84.7,"type":"quantitative"},"text":{"field":"t"}}},
{"data":{"values":[{"t":"↑","i":28},{"t":"⛶","i":35},{"t":"✕","i":42.5}]},"mark":{"type":"text","font":"DejaVu Sans","fontSize":15,"color":"#555555"},
 "encoding":{"x":{"field":"i","type":"quantitative"},"y":{"datum":85.3,"type":"quantitative"},"text":{"field":"t"}}},
{"data":{"values":[{}]},"mark":{"type":"rect","fill":"#ff1f1f","cornerRadius":2},
 "encoding":{"x":{"datum":264.8,"type":"quantitative"},"x2":{"datum":273},"y":{"datum":76.3,"type":"quantitative"},"y2":{"datum":67.7}}},
{"data":{"values":[{}]},"mark":{"type":"point","shape":"triangle-left","filled":true,"fill":"#ff1f1f","size":70,"opacity":1,"strokeWidth":0},
 "encoding":{"x":{"datum":264.2,"type":"quantitative"},"y":{"datum":72,"type":"quantitative"}}},
{"data":{"values":[{"t":"72.21"}]},"mark":{"type":"text","align":"left","fontSize":10,"fontWeight":"bold","color":"#7d0a0a"},
 "encoding":{"x":{"datum":266.2,"type":"quantitative"},"y":{"datum":72,"type":"quantitative"},"text":{"field":"t"}}},
{"data":{"values":[{}]},"mark":{"type":"rect","fill":"#111111","cornerRadius":2},
 "encoding":{"x":{"datum":264.8,"type":"quantitative"},"x2":{"datum":273},"y":{"datum":62.7,"type":"quantitative"},"y2":{"datum":54.7}}},
{"data":{"values":[{}]},"mark":{"type":"point","shape":"triangle-left","filled":true,"fill":"#111111","size":70,"opacity":1,"strokeWidth":0},
 "encoding":{"x":{"datum":264.2,"type":"quantitative"},"y":{"datum":58.7,"type":"quantitative"}}},
{"data":{"values":[{"t":"58.92"}]},"mark":{"type":"text","align":"left","fontSize":10,"fontWeight":"bold","color":"#ffffff"},
 "encoding":{"x":{"datum":266.2,"type":"quantitative"},"y":{"datum":58.7,"type":"quantitative"},"text":{"field":"t"}}}
]
}
]
}
